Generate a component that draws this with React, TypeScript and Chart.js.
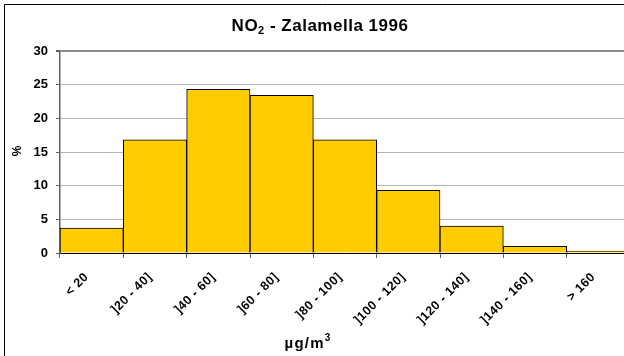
import React, { useEffect, useRef } from "react";
import { Chart, registerables } from "chart.js";

Chart.register(...registerables);

const categories = [
  "< 20",
  "]20 - 40]",
  "]40 - 60]",
  "]60 - 80]",
  "]80 - 100]",
  "]100 - 120]",
  "]120 - 140]",
  "]140 - 160]",
  "> 160",
];
const percentages = [3.7, 16.8, 24.3, 23.4, 16.8, 9.3, 4.0, 1.0, 0.3];
const yMin = 0;
const yMax = 30;
const yStep = 5;
const titleParts = [
  { t: "NO", sub: false },
  { t: "2", sub: true },
  { t: " - Zalamella 1996", sub: false },
];
const yTitle = "%";
const xTitleBase = "µg/m";
const xTitleSup = "3";

const FONT = "'Liberation Sans', Arial, sans-serif";

const overlayPlugin = {
  id: "overlay",
  afterDraw(chart: any) {
    const ctx = chart.ctx as any;
    ctx.save();
    // frame
    ctx.strokeStyle = "#000";
    ctx.lineWidth = 1;
    ctx.beginPath();
    ctx.moveTo(4.5, 400);
    ctx.lineTo(4.5, 4.5);
    ctx.lineTo(800, 4.5);
    ctx.stroke();

    ctx.fillStyle = "#000";
    ctx.textBaseline = "alphabetic";
    ctx.textAlign = "left";

    // x category labels (rotated)
    const xs = chart.scales.x;
    const axisY = chart.chartArea.bottom;
    ctx.font = `bold 12.5px ${FONT}`;
    ctx.letterSpacing = "0.5px";
    categories.forEach((lab, i) => {
      const px = xs.getPixelForValue(i);
      ctx.save();
      ctx.translate(px - 5, axisY + 22);
      ctx.rotate(-Math.PI / 4);
      ctx.textAlign = "right";
      ctx.textBaseline = "middle";
      ctx.fillText(lab, 0, 0);
      ctx.restore();
    });

    // main title
    ctx.letterSpacing = "0.5px";
    const big = `bold 17px ${FONT}`;
    const small = `bold 11px ${FONT}`;
    let total = 0;
    for (const p of titleParts) {
      ctx.font = p.sub ? small : big;
      total += ctx.measureText(p.t).width;
    }
    let x = 320 - total / 2;
    for (const p of titleParts) {
      ctx.font = p.sub ? small : big;
      ctx.fillText(p.t, x, p.sub ? 34 : 31);
      x += ctx.measureText(p.t).width;
    }

    // x title
    ctx.letterSpacing = "1.2px";
    const xb = `bold 15px ${FONT}`;
    const xsup = `bold 10px ${FONT}`;
    ctx.font = xb;
    const w1 = ctx.measureText(xTitleBase).width;
    ctx.font = xsup;
    const w2 = ctx.measureText(xTitleSup).width;
    const xx = 308 - (w1 + w2) / 2;
    ctx.font = xb;
    ctx.fillText(xTitleBase, xx, 348);
    ctx.font = xsup;
    ctx.fillText(xTitleSup, xx + w1, 341);

    // y title
    ctx.letterSpacing = "0px";
    ctx.translate(18, 151);
    ctx.rotate(-Math.PI / 2);
    ctx.font = `bold 12px ${FONT}`;
    ctx.textAlign = "center";
    ctx.textBaseline = "middle";
    ctx.fillText(yTitle, 0, 0);
    ctx.restore();
  },
};

export default function App() {
  const ref = useRef<HTMLCanvasElement>(null);
  useEffect(() => {
    document.body.style.margin = "0";
    document.body.style.overflow = "hidden";
    const canvas = ref.current!;
    const chart = new Chart(canvas, {
      type: "bar",
      data: {
        labels: categories,
        datasets: [
          {
            data: percentages,
            backgroundColor: "#FFCC00",
            borderColor: "#000000",
            borderWidth: 1,
            categoryPercentage: 1,
            barPercentage: 1,
          },
        ],
      },
      options: {
        responsive: false,
        animation: false,
        devicePixelRatio: 1,
        layout: { padding: { top: 51, right: 10, left: 0, bottom: 0 } },
        plugins: {
          legend: { display: false },
          title: { display: false },
          tooltip: { enabled: false },
        },
        scales: {
          x: {
            offset: true,
            grid: {
              offset: true,
              drawOnChartArea: false,
              drawTicks: true,
              tickLength: 5,
              color: "#606060",
            },
            border: { color: "#000000", width: 1 },
            ticks: { display: false },
            afterFit(scale: any) {
              scale.height = 103;
            },
          },
          y: {
            min: yMin,
            max: yMax,
            ticks: {
              stepSize: yStep,
              padding: 8,
              color: "#000",
              font: { family: FONT, size: 13, weight: "bold" },
            },
            grid: {
              color: (c: any) => (c.tick && c.tick.value === yMax ? "#8c8c8c" : "#b4b4b4"),
              lineWidth: (c: any) => (c.tick && c.tick.value === yMax ? 2 : 1),
              tickColor: "#606060",
              tickLength: 4,
            },
            border: { color: "#606060", width: 1.5 },
            afterFit(scale: any) {
              scale.width = 60;
            },
          },
        },
      },
      plugins: [overlayPlugin],
    } as any);
    return () => chart.destroy();
  }, []);
  return (
    <div style={{ position: "absolute", left: 0, top: 0, width: 640, height: 356 }}>
      <canvas ref={ref} width={640} height={356} style={{ width: 640, height: 356, display: "block" }} />
    </div>
  );
}
